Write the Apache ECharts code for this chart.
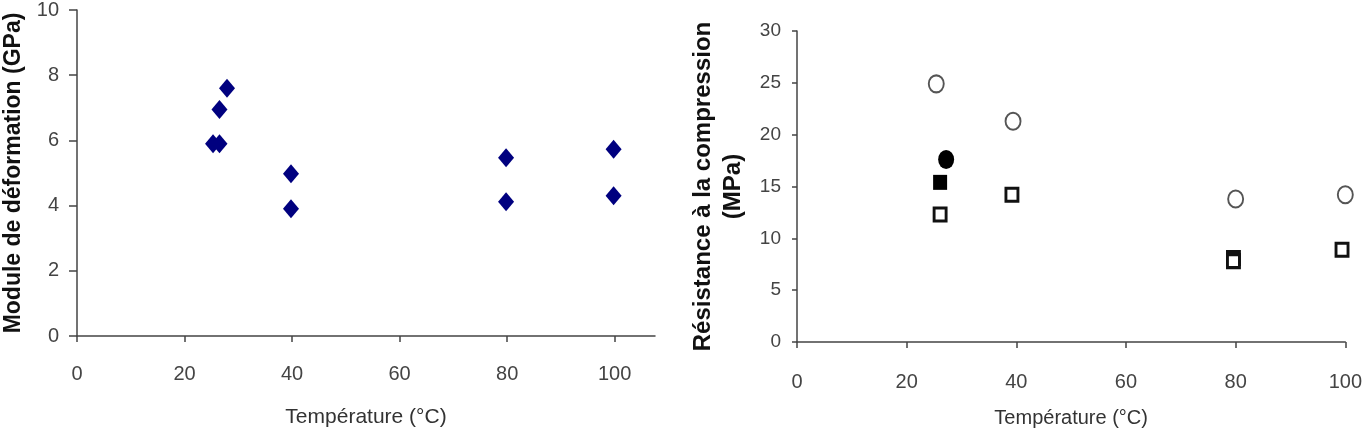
<!DOCTYPE html>
<html>
<head>
<meta charset="utf-8">
<script src="https://cdn.jsdelivr.net/npm/echarts@6/dist/echarts.min.js"></script>
<style>
html, body { margin: 0; padding: 0; background: #fff; }
#container { width: 1365px; height: 437px; }
</style>
</head>
<body>
<div id="container"></div>
<script>
// left chart: module de deformation
var modTemp = [25.3, 26.5, 26.5, 27.9, 39.8, 39.8, 79.8, 79.8, 99.8, 99.8];
var modValues = [5.9, 5.9, 6.95, 7.6, 4.98, 3.9, 5.47, 4.12, 5.73, 4.3];

// right chart: resistance a la compression
var openCircleTemp = [25.4, 39.4, 80.0, 100];
var openCircleValues = [24.9, 21.3, 13.8, 14.2];
var filledCircleTemp = [27.2];
var filledCircleValues = [17.6];
var filledSquareTemp = [26.1];
var filledSquareValues = [15.4];
var openSquareTemp = [26.1, 39.2, 79.6, 79.6, 99.4];
var openSquareValues = [12.3, 14.2, 8.1, 7.8, 8.9];

var xTicks = [0, 20, 40, 60, 80, 100];

function pairs(xs, ys) {
    var out = [];
    for (var i = 0; i < xs.length; i++) {
        out.push([xs[i], ys[i]]);
    }
    return out;
}

var font = 'Liberation Sans, Arial, sans-serif';
var axisColor = '#444';

function xAxisDef(idx, max, size, labelSize, margin, gap) {
    return {
        type: 'value', gridIndex: idx, min: 0, max: max,
        name: 'Température (°C)', nameLocation: 'middle', nameGap: gap,
        nameTextStyle: { color: '#333', fontSize: size, fontFamily: font },
        axisLine: { lineStyle: { color: axisColor, width: 1.5 } },
        axisTick: { length: 6, customValues: xTicks, lineStyle: { color: axisColor, width: 1.5 } },
        axisLabel: { customValues: xTicks, margin: margin, color: '#444', fontSize: labelSize, fontFamily: font },
        splitLine: { show: false }
    };
}

var dom = document.getElementById("container");
var myChart = echarts.init(dom);
var option = {
    animation: false,
    backgroundColor: '#fff',
    grid: [
        { left: 77, right: 710, top: 10, bottom: 101 },
        { left: 797, right: 13, top: 31, bottom: 95 }
    ],
    xAxis: [
        xAxisDef(0, 107.5, 21, 20, 28, 71),
        xAxisDef(1, 100, 20, 20, 30, 66)
    ],
    yAxis: [{
        type: 'value', gridIndex: 0, min: 0, max: 10, interval: 2,
        name: 'Module de déformation (GPa)', nameLocation: 'middle', nameGap: 52,
        nameTextStyle: { color: '#111', fontSize: 23, fontWeight: 'bold', fontFamily: font },
        axisLine: { show: true, lineStyle: { color: axisColor, width: 1.5 } },
        axisTick: { show: true, length: 8, lineStyle: { color: axisColor, width: 1.5 } },
        axisLabel: { margin: 18, color: '#444', fontSize: 20, fontFamily: font },
        splitLine: { show: false }
    }, {
        type: 'value', gridIndex: 1, min: 0, max: 30, interval: 5,
        name: 'Résistance à la compression\n(MPa)', nameLocation: 'middle', nameGap: 49,
        nameTextStyle: { color: '#111', fontSize: 24, fontWeight: 'bold', fontFamily: font, lineHeight: 30 },
        axisLine: { show: true, lineStyle: { color: axisColor, width: 1.5 } },
        axisTick: { show: true, length: 5, lineStyle: { color: axisColor, width: 1.5 } },
        axisLabel: { margin: 16, color: '#444', fontSize: 19, fontFamily: font },
        splitLine: { show: false }
    }],
    series: [{
        type: 'scatter', xAxisIndex: 0, yAxisIndex: 0,
        data: pairs(modTemp, modValues),
        symbol: 'diamond', symbolSize: [16, 19],
        itemStyle: { color: '#00007f', opacity: 1 }
    }, {
        type: 'scatter', xAxisIndex: 1, yAxisIndex: 1,
        data: pairs(openCircleTemp, openCircleValues),
        symbol: 'circle', symbolSize: [15, 17],
        itemStyle: { color: '#fff', borderColor: '#555', borderWidth: 2, opacity: 1 }
    }, {
        type: 'scatter', xAxisIndex: 1, yAxisIndex: 1,
        data: pairs(filledCircleTemp, filledCircleValues),
        symbol: 'circle', symbolSize: [16, 19],
        itemStyle: { color: '#000', opacity: 1 }
    }, {
        type: 'scatter', xAxisIndex: 1, yAxisIndex: 1,
        data: pairs(filledSquareTemp, filledSquareValues),
        symbol: 'rect', symbolSize: [14, 15],
        itemStyle: { color: '#000', opacity: 1 }
    }, {
        type: 'scatter', xAxisIndex: 1, yAxisIndex: 1,
        data: pairs(openSquareTemp, openSquareValues),
        symbol: 'rect', symbolSize: [12, 13],
        itemStyle: { color: '#fff', borderColor: '#111', borderWidth: 3, opacity: 1 }
    }]
};

if (option && typeof option === "object") {
    myChart.setOption(option, true);
}
</script>
</body>
</html>
